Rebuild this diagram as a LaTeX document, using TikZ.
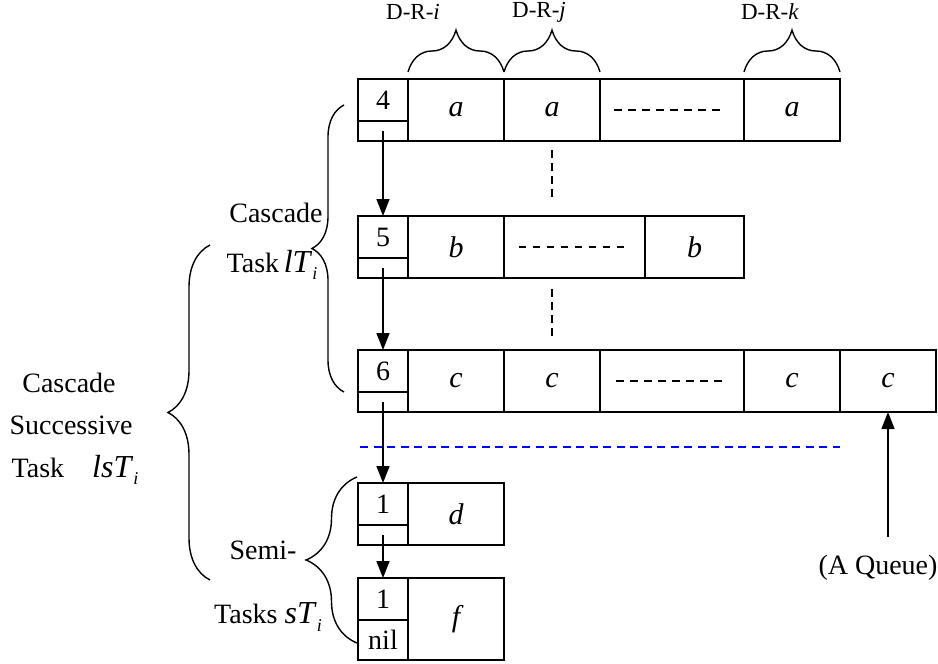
\documentclass[tikz,border=0pt]{standalone}
\usepackage{fontspec}
\setmainfont{Liberation Serif}
\usetikzlibrary{arrows.meta}
\usetikzlibrary{positioning}
\usetikzlibrary{decorations.pathreplacing}
\tikzstyle{cell} = [draw, rectangle, line width=1.5pt, inner sep=0pt,
    outer sep=0pt, minimum height=62pt, minimum width=96pt,
    font=\fontsize{30}{32}\selectfont\itshape]
\tikzstyle{wide} = [cell, minimum width=144pt]
\tikzstyle{head} = [draw, rectangle, line width=1.5pt, inner sep=0pt,
    outer sep=0pt, minimum width=50pt, minimum height=42pt,
    font=\fontsize{28}{30}\selectfont]
\tikzstyle{tail} = [head, minimum height=20pt]
\tikzstyle{line} = [draw, line width=1.5pt, -{Triangle[width=13pt,length=17pt]}]
\tikzstyle{txt} = [inner sep=0pt, font=\fontsize{28}{32}\selectfont]
\tikzstyle{tag} = [inner sep=0pt, font=\fontsize{23}{26}\selectfont]
\tikzstyle{curly} = [draw, line width=1.4pt, decorate]
\tikzstyle{gap} = [draw, line width=1.5pt, dash pattern=on 7.7pt off 6.3pt]
\newcommand{\taskvar}[1]{{\fontsize{32}{34}\selectfont\textit{#1}}%
  \raisebox{-0.55ex}{\fontsize{18}{18}\selectfont\textit{i}}}

\begin{document}
\begin{tikzpicture}[x=1pt, y=-1pt]
  \useasboundingbox (0,0) rectangle (938,664);
  % Place nodes
  \node [head] (up4) at (383,100) {4};
  \node [tail, below=0pt of up4] (lo4) {};
  \node [cell] (a1) at (456,110) {a};
  \node [cell, right=0pt of a1] (a2) {a};
  \node [wide, right=0pt of a2] (dot1) {};
  \node [cell, right=0pt of dot1] (a3) {a};

  \node [head] (up5) at (383,237) {5};
  \node [tail, below=0pt of up5] (lo5) {};
  \node [cell] (b1) at (456,247) {b};
  \node [wide, minimum width=141pt, right=0pt of b1] (dot2) {};
  \node [cell, minimum width=99pt, right=0pt of dot2] (b2) {b};

  \node [head] (up6) at (383,371) {6};
  \node [tail, below=0pt of up6] (lo6) {};
  \node [cell] (c1) at (456,381) {c};
  \node [cell, right=0pt of c1] (c2) {c};
  \node [wide, right=0pt of c2] (dot3) {};
  \node [cell, right=0pt of dot3] (c3) {c};
  \node [cell, right=0pt of c3] (c4) {c};

  \node [head] (up7) at (383,504) {1};
  \node [tail, below=0pt of up7] (lo7) {};
  \node [cell] (d1) at (456,514) {d};

  \node [head] (up8) at (383,599) {1};
  \node [tail, minimum height=40pt, below=0pt of up8, font=\fontsize{28}{30}\selectfont] (lo8) {nil};
  \node [cell, minimum height=82pt] (f1) at (456,619) {f};

  % labels
  \node [tag] (dri) at (413,12) {D-R-\textit{i}};
  \node [tag] (drj) at (539,12) {D-R-\textit{j}};
  \node [tag] (drk) at (770,12) {D-R-\textit{k}};
  \node [txt] (casc) at (276,213) {Cascade};
  \node [txt] (tlt) at (272,265) {Task\,\taskvar{lT}};
  \node [txt] (casc2) at (69,383) {Cascade};
  \node [txt] (succ) at (71,425) {Successive};
  \node [txt] (tlst) at (75,470) {Task\quad\taskvar{lsT}};
  \node [txt] (semi) at (263,550) {Semi-};
  \node [txt] (tst) at (268,617) {Tasks \taskvar{sT}};
  \node [txt] (queue) at (878,568) {(A Queue)};
  \coordinate (qfoot) at (888,537);

  % braces
  \path [curly, decoration={brace, amplitude=42pt}] (a1.north west) ++(0,-7) -- ++(96,0);
  \path [curly, decoration={brace, amplitude=42pt}] (a2.north west) ++(0,-7) -- ++(96,0);
  \path [curly, decoration={brace, amplitude=42pt}] (a3.north west) ++(0,-7) -- ++(96,0);
  \path [curly, decoration={brace, amplitude=32pt}] (344,392) -- (344,105);
  \path [curly, decoration={brace, amplitude=42pt}] (210,580) -- (210,245);
  \path [curly, decoration={brace, amplitude=51pt}] (357,643) -- (357,477);

  % dashes
  \path [gap] ([xshift=-58pt]dot1.center) -- ([xshift=48pt]dot1.center);
  \path [gap] ([xshift=-56pt]dot2.center) -- ([xshift=50pt]dot2.center);
  \path [gap] ([xshift=-56pt]dot3.center) -- ([xshift=50pt]dot3.center);
  \path [gap, dash pattern=on 8pt off 5pt] (552,150) -- (552,198);
  \path [gap, dash pattern=on 8pt off 5pt] (552,289) -- (552,340);
  \path [gap, draw=blue, dash pattern=on 8pt off 5.5pt] (360,447) -- (840,447);

  %paths
  \path [line] (lo4.center) -- (up5.north);
  \path [line] (lo5.center) -- (up6.north);
  \path [line] (lo6.center) -- (up7.north);
  \path [line] (lo7.center) -- (up8.north);
  \path [line] (qfoot) -- (c4.south);

\end{tikzpicture}
\end{document}
